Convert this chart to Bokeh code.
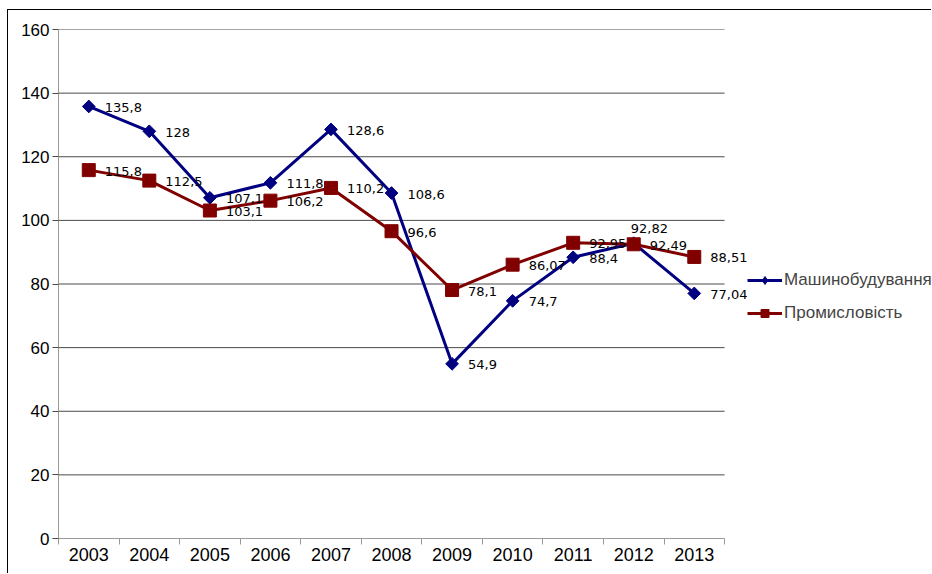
import numpy as np
from bokeh.plotting import figure
from bokeh.models import (Range1d, FixedTicker, ColumnDataSource, LabelSet,
                          Legend, LegendItem)
from bokeh.embed import file_html
from bokeh.resources import INLINE
from bokeh.core.properties import value

years = ["2003", "2004", "2005", "2006", "2007", "2008", "2009", "2010", "2011", "2012", "2013"]
mash = [135.8, 128, 107.1, 111.8, 128.6, 108.6, 54.9, 74.7, 88.4, 92.82, 77.04]
prom = [115.8, 112.5, 103.1, 106.2, 110.2, 96.6, 78.1, 86.07, 92.95, 92.49, 88.51]
y_ticks = [0, 20, 40, 60, 80, 100, 120, 140, 160]
series_names = ["Машинобудування", "Промисловість"]

BLUE = "#000080"
RED = "#800000"
GRID = "#4a4a4a"
AXIS = "#9a9a9a"

n = len(years)
xs = [i + 0.5 for i in range(n)]

# frame: 874 px wide, 60.55 px per category -> visible x extent beyond the categories
X_END = 874 / 60.55


def fmt(v):
    return str(v).replace(".", ",")


# label offsets (screen px)
mash_dx = [16] * n
mash_dy = [-1] * n
mash_dx[9] = -3
mash_dy[9] = 15
prom_dx = [16] * n
prom_dy = [-1] * n

src_m = ColumnDataSource(dict(x=xs, y=mash, t=[fmt(v) for v in mash], dx=mash_dx, dy=mash_dy))
src_p = ColumnDataSource(dict(x=xs, y=prom, t=[fmt(v) for v in prom], dx=prom_dx, dy=prom_dy))

p = figure(width=924, height=564, output_backend="svg", toolbar_location=None,
           x_range=Range1d(0, X_END), y_range=Range1d(0, 160),
           min_border_left=50, min_border_top=19, min_border_bottom=36, min_border_right=0)
p.styles = {"margin-left": "7px", "margin-top": "9px",
            "border-left": "1px solid black", "border-top": "1px solid black"}
p.outline_line_color = None
p.background_fill_color = "white"
p.border_fill_color = "white"

# axes
p.xaxis.ticker = FixedTicker(ticks=xs, minor_ticks=list(range(n + 1)))
p.xaxis.bounds = (0, n)
p.xaxis.major_label_overrides = {x: y for x, y in zip(xs, years)}
p.xaxis.major_tick_line_color = None
p.xaxis.major_tick_out = 6
p.xaxis.major_tick_in = 0
p.xaxis.minor_tick_out = 6
p.xaxis.minor_tick_in = 0
p.xaxis.minor_tick_line_color = AXIS
p.xaxis.axis_line_color = AXIS
p.xaxis.major_label_standoff = 3
p.xaxis.major_label_text_font = "Liberation Sans"
p.xaxis.major_label_text_font_size = "18px"
p.xaxis.major_label_text_color = "black"

p.yaxis.ticker = FixedTicker(ticks=y_ticks)
p.yaxis.major_tick_out = 6
p.yaxis.major_tick_in = 0
p.yaxis.major_tick_line_color = GRID
p.yaxis.minor_tick_line_color = None
p.yaxis.axis_line_color = AXIS
p.yaxis.major_label_standoff = 3
p.yaxis.major_label_text_font = "Liberation Sans"
p.yaxis.major_label_text_font_size = "17px"
p.yaxis.major_label_text_color = "black"

p.xgrid.grid_line_color = None
p.ygrid.grid_line_color = None

# horizontal gridlines, limited to the category span
gy = y_ticks[1:]
p.segment(x0=[0] * len(gy), x1=[n] * len(gy), y0=gy, y1=gy, line_color=GRID, line_width=1)

# series
bl = p.line("x", "y", source=src_m, line_color=BLUE, line_width=3)
# small diamond (sits fully under the larger rotated square); used for the legend symbol
b_leg = p.scatter("x", "y", source=src_m, marker="diamond", size=8,
                  fill_color=BLUE, line_color=BLUE)
bs = p.scatter("x", "y", source=src_m, marker="square", angle=np.pi / 4, size=9,
               fill_color=BLUE, line_color=BLUE)
rl = p.line("x", "y", source=src_p, line_color=RED, line_width=3)
rs = p.scatter("x", "y", source=src_p, marker="square", size=13,
               fill_color=RED, line_color=RED)

for src in (src_m, src_p):
    ls = LabelSet(x="x", y="y", text="t", source=src, x_offset="dx", y_offset="dy",
                  text_font=value("DejaVu Sans"), text_font_size="13px",
                  text_color="black", text_align="left", text_baseline="middle")
    p.add_layout(ls)

legend = Legend(items=[LegendItem(label=series_names[0], renderers=[bl, b_leg]),
                       LegendItem(label=series_names[1], renderers=[rl, rs])],
                location=(689, 215), glyph_width=35, glyph_height=20, label_height=20,
                spacing=13, padding=0, margin=0, border_line_color=None,
                background_fill_alpha=0, label_text_font="Liberation Sans",
                label_text_font_size="17px", label_standoff=2)
p.add_layout(legend)

open("out.html", "w").write(file_html(p, INLINE))
